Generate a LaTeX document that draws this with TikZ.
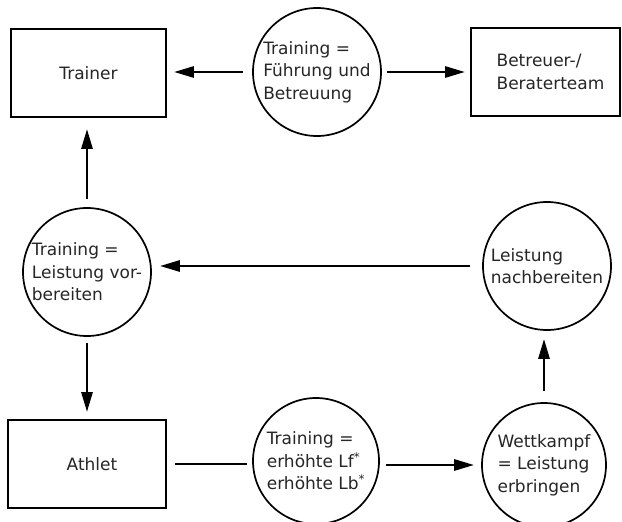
\documentclass[tikz,border=0pt]{standalone}
\usepackage{fontspec}
\setmainfont{DejaVu Sans}
\usetikzlibrary{arrows.meta}
\begin{document}
\begin{tikzpicture}[x=1pt,y=-1pt,
  txt/.style={font=\fontsize{17}{22.5}\selectfont, text=black!85},
  box/.style={txt, draw, line width=1.9pt, minimum width=155pt, minimum height=88pt, inner sep=0pt, align=left},
  ring/.style={txt, draw, circle, line width=1.7pt, minimum size=128pt, inner sep=0pt, align=left},
  flow/.style={line width=2.8pt, -{Triangle[length=20pt,width=11pt]}},
  link/.style={line width=2.8pt}]
\useasboundingbox (0,0) rectangle (622,522);
\fill[white] (0,0) rectangle (622,522);
% boxes
\node[box] (trainer) at (88.5,73) {Trainer};
\node[box, minimum width=149pt] (team) at (545.5,72) {\hspace*{10pt}Betreuer-/\\\hspace*{10pt}Beraterteam};
\node[box, minimum width=158pt] (athlet) at (87,464) {\hspace*{10pt}Athlet};
% circles
\node[ring] (fuehrung) at (317,72) {Training =\\Führung und\\Betreuung};
\node[ring] (vor) at (87,272) {Training =\\Leistung vor-\\bereiten};
\node[ring] (nach) at (547,266) {Leistung\\nachbereiten};
\node[ring, minimum size=126pt] (lf) at (316,461) {Training =\\erhöhte Lf\textsuperscript{*}\\erhöhte Lb\textsuperscript{*}};
\node[ring, minimum size=124pt] (wk) at (544,465) {Wettkampf\\= Leistung\\erbringen};
% connectors
\draw[flow, shorten <=9pt, shorten >=7pt] (fuehrung.west) -- (fuehrung.west -| trainer.east);
\draw[flow, shorten <=5pt, shorten >=5pt] (fuehrung.east) -- (fuehrung.east -| team.west);
\draw[flow, shorten <=8pt, shorten >=11pt] (vor.north) -- (vor.north |- trainer.south);
\draw[flow, shorten <=6pt, shorten >=7pt] (vor.south) -- (vor.south |- athlet.north);
\draw[flow, shorten <=12pt, shorten >=8pt] (nach.west) -- (nach.west -| vor.east);
\draw[link, shorten <=8pt, shorten >=5pt] (athlet.east) -- (athlet.east -| lf.west);
\draw[flow, shorten <=6pt, shorten >=7pt] (wk.west -| lf.east) -- (wk.west);
\draw[flow, shorten <=11pt, shorten >=8pt] (wk.north) -- (wk.north |- nach.south);
\end{tikzpicture}
\end{document}
